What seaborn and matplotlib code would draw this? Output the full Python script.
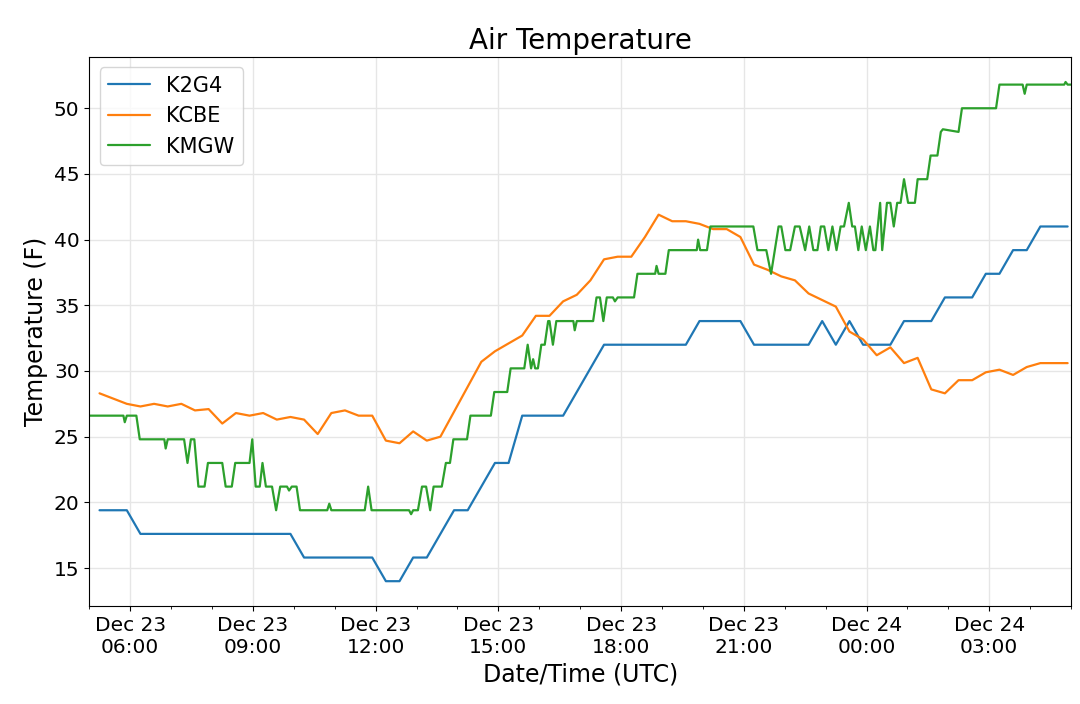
import pandas as pd
import seaborn as sns
import matplotlib.pyplot as plt
import matplotlib.dates as mdates

# K2G4 and KCBE report every 20 minutes, 05:15 Dec 23 -> 04:55 Dec 24
k2g4_temp = [19.4, 19.4, 19.4, 17.6, 17.6, 17.6, 17.6, 17.6, 17.6, 17.6, 17.6, 17.6,
             17.6, 17.6, 17.6, 15.8, 15.8, 15.8, 15.8, 15.8, 15.8, 14.0, 14.0, 15.8,
             15.8, 17.6, 19.4, 19.4, 21.2, 23.0, 23.0, 26.6, 26.6, 26.6, 26.6, 28.4,
             30.2, 32.0, 32.0, 32.0, 32.0, 32.0, 32.0, 32.0, 33.8, 33.8, 33.8, 33.8,
             32.0, 32.0, 32.0, 32.0, 32.0, 33.8, 32.0, 33.8, 32.0, 32.0, 32.0, 33.8,
             33.8, 33.8, 35.6, 35.6, 35.6, 37.4, 37.4, 39.2, 39.2, 41.0, 41.0, 41.0]

kcbe_temp = [28.3, 27.9, 27.5, 27.3, 27.5, 27.3, 27.5, 27.0, 27.1, 26.0, 26.8, 26.6,
             26.8, 26.3, 26.5, 26.3, 25.2, 26.8, 27.0, 26.6, 26.6, 24.7, 24.5, 25.4,
             24.7, 25.0, 26.9, 28.8, 30.7, 31.5, 32.1, 32.7, 34.2, 34.2, 35.3, 35.8,
             36.9, 38.5, 38.7, 38.7, 40.2, 41.9, 41.4, 41.4, 41.2, 40.8, 40.8, 40.2,
             38.1, 37.7, 37.2, 36.9, 35.9, 35.4, 34.9, 33.0, 32.4, 31.2, 31.8, 30.6,
             31.0, 28.6, 28.3, 29.3, 29.3, 29.9, 30.1, 29.7, 30.3, 30.6, 30.6, 30.6]

# KMGW reports every few minutes; only the turning points are listed
kmgw_time = ["05:00", "05:50", "05:52", "05:55", "06:09", "06:14", "06:50", "06:52",
             "06:55", "07:19", "07:24", "07:29", "07:34", "07:40", "07:49", "07:54",
             "08:15", "08:20", "08:29", "08:34", "08:55", "08:59", "09:04", "09:10",
             "09:14", "09:19", "09:28", "09:34", "09:40", "09:50", "09:53", "09:57",
             "10:04", "10:09", "10:49", "10:52", "10:55", "11:44", "11:49", "11:54",
             "12:49", "12:52", "12:55", "13:02", "13:08", "13:14", "13:20", "13:25",
             "13:37", "13:43", "13:49", "13:54", "14:14", "14:19", "14:49", "14:54",
             "15:13", "15:18", "15:38", "15:43", "15:48", "15:51", "15:54", "15:58",
             "16:03", "16:08", "16:13", "16:15", "16:20", "16:25", "16:50", "16:52",
             "16:55", "17:19", "17:24", "17:29", "17:34", "17:39", "17:48", "17:51",
             "17:55", "18:19", "18:24", "18:50", "18:52", "18:55", "19:05", "19:10",
             "19:51", "19:53", "19:56", "20:06", "20:11", "21:14", "21:20", "21:33",
             "21:40", "21:51", "21:55", "22:01", "22:08", "22:15", "22:22", "22:30",
             "22:36", "22:42", "22:48", "22:53", "22:58", "23:04", "23:10", "23:16",
             "23:22", "23:27", "23:34", "23:39", "23:43", "23:48", "23:53", "23:59",
             "00:05", "00:10", "00:13", "00:20", "00:23", "00:30", "00:35", "00:40",
             "00:45", "00:50", "00:55", "01:01", "01:11", "01:15", "01:29", "01:34",
             "01:44", "01:49", "01:52", "02:15", "02:20", "03:10", "03:15", "03:49",
             "03:52", "03:55", "04:50", "04:52", "04:55", "05:00"]

kmgw_temp = [26.6, 26.6, 26.1, 26.6, 26.6, 24.8, 24.8, 24.1,
             24.8, 24.8, 23.0, 24.8, 24.8, 21.2, 21.2, 23.0,
             23.0, 21.2, 21.2, 23.0, 23.0, 24.8, 21.2, 21.2,
             23.0, 21.2, 21.2, 19.4, 21.2, 21.2, 20.9, 21.2,
             21.2, 19.4, 19.4, 19.9, 19.4, 19.4, 21.2, 19.4,
             19.4, 19.1, 19.4, 19.4, 21.2, 21.2, 19.4, 21.2,
             21.2, 23.0, 23.0, 24.8, 24.8, 26.6, 26.6, 28.4,
             28.4, 30.2, 30.2, 32.0, 30.2, 30.9, 30.2, 30.2,
             32.0, 32.0, 33.8, 33.8, 32.0, 33.8, 33.8, 33.1,
             33.8, 33.8, 35.6, 35.6, 33.8, 35.6, 35.6, 35.3,
             35.6, 35.6, 37.4, 37.4, 38.0, 37.4, 37.4, 39.2,
             39.2, 40.0, 39.2, 39.2, 41.0, 41.0, 39.2, 39.2,
             37.4, 41.0, 41.0, 39.2, 39.2, 41.0, 41.0, 39.2,
             41.0, 39.2, 39.2, 41.0, 41.0, 39.2, 41.0, 39.2,
             41.0, 41.0, 42.8, 41.0, 41.0, 39.2, 41.0, 39.2,
             41.0, 39.2, 39.2, 42.8, 39.2, 42.8, 42.8, 41.0,
             42.8, 42.8, 44.6, 42.8, 42.8, 44.6, 44.6, 46.4,
             46.4, 48.2, 48.4, 48.2, 50.0, 50.0, 51.8, 51.8,
             51.1, 51.8, 51.8, 52.0, 51.8, 51.8]

stations = ["K2G4", "KCBE", "KMGW"]
colors = ["#1f77b4", "#ff7f0e", "#2ca02c"]


def to_datetimes(hhmm, start="2022-12-23"):
    # times roll over into the next day when the clock goes backwards
    day = pd.Timestamp(start)
    out = []
    prev = None
    for s in hhmm:
        t = day + pd.Timedelta(hours=int(s[:2]), minutes=int(s[3:]))
        if prev is not None and t < prev:
            day += pd.Timedelta(days=1)
            t += pd.Timedelta(days=1)
        out.append(t)
        prev = t
    return out


t20 = pd.date_range("2022-12-23 05:15", periods=len(k2g4_temp), freq="20min")
df = pd.concat([
    pd.DataFrame({"time": t20, "temp": k2g4_temp, "station": "K2G4"}),
    pd.DataFrame({"time": t20, "temp": kcbe_temp, "station": "KCBE"}),
    pd.DataFrame({"time": to_datetimes(kmgw_time), "temp": kmgw_temp, "station": "KMGW"}),
])

sns.set_style("ticks", rc={"axes.edgecolor": "black", "xtick.color": "black",
                           "ytick.color": "black", "text.color": "black",
                           "axes.labelcolor": "black"})
plt.rcParams["font.family"] = ["DejaVu Sans"]

fig, ax = plt.subplots(figsize=(10.8, 7.04), dpi=100)
fig.subplots_adjust(left=0.0827, right=0.9917, top=0.919, bottom=0.139)

sns.lineplot(data=df, x="time", y="temp", hue="station", hue_order=stations,
             palette=colors, estimator=None, linewidth=1.6, ax=ax)

ax.set_xlim(pd.Timestamp("2022-12-23 05:00"), pd.Timestamp("2022-12-24 05:00"))
ax.xaxis.set_major_locator(mdates.HourLocator(byhour=range(0, 24, 3)))
ax.xaxis.set_minor_locator(mdates.HourLocator())
ax.xaxis.set_major_formatter(mdates.DateFormatter("%b %d\n%H:%M"))
ax.grid(True, which="major", color="#e6e6e6", linewidth=1)
ax.tick_params(labelsize=14.5)

ax.set_title("Air Temperature", fontsize=20)
ax.set_xlabel("Date/Time (UTC)", fontsize=17)
ax.set_ylabel("Temperature (F)", fontsize=17)
ax.legend(loc="upper left", fontsize=15)

fig.savefig("out.png", dpi=100)
